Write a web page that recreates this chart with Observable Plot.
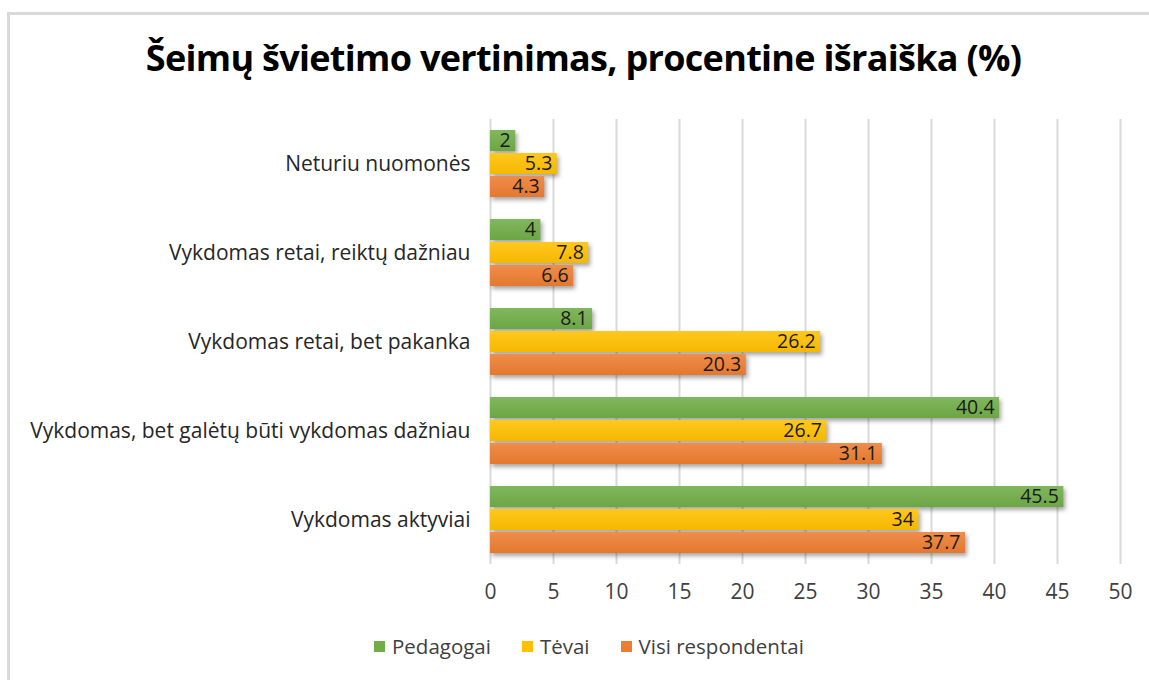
<!DOCTYPE html>
<html>
<head>
<meta charset="utf-8">
<script src="https://cdn.jsdelivr.net/npm/d3@7"></script>
<script src="https://cdn.jsdelivr.net/npm/@observablehq/plot@0.6"></script>
<style>
  html, body { margin: 0; padding: 0; background: #fff; }
  #wrap { position: relative; width: 1149px; height: 680px; overflow: hidden; font-family: "Open Sans", "Noto Sans", sans-serif; }
  #frame { position: absolute; left: 7px; top: 12px; width: 1160px; height: 700px; border-top: 3px solid #d9d9d9; border-left: 3px solid #d9d9d9; box-sizing: border-box; }
  #title { position: absolute; left: 9px; width: 1149px; top: 33px; text-align: center; font-weight: 700; font-size: 36px; letter-spacing: -0.7px; color: #000; white-space: nowrap; }
  #chart { position: absolute; left: 0; top: 0; }
  #legend { position: absolute; top: 632px; left: 374px; display: flex; align-items: center; font-size: 20.5px; color: #404040; white-space: nowrap; }
  #legend .item { display: flex; align-items: center; margin-right: 31px; }
  #legend .sw { width: 11px; height: 11px; margin-right: 7px; }
  g[aria-label="bar"] rect { filter: drop-shadow(2px 3px 2px rgba(0,0,0,0.35)); }
</style>
</head>
<body>
<div id="wrap">
  <div id="frame"></div>
  <div id="chart"></div>
  <div id="title"></div>
  <div id="legend"></div>
</div>
<script>
const title = "Šeimų švietimo vertinimas, procentine išraiška (%)";
const categories = [
  "Neturiu nuomonės",
  "Vykdomas retai, reiktų dažniau",
  "Vykdomas retai, bet pakanka",
  "Vykdomas, bet galėtų būti vykdomas dažniau",
  "Vykdomas aktyviai"
];
const seriesNames = ["Pedagogai", "Tėvai", "Visi respondentai"];
const seriesColors = ["#70AD47", "#FFC000", "#ED7D31"];
const pedagogai = [2, 4, 8.1, 40.4, 45.5];
const tevai = [5.3, 7.8, 26.2, 26.7, 34];
const visi = [4.3, 6.6, 20.3, 31.1, 37.7];
const xTicks = [0, 5, 10, 15, 20, 25, 30, 35, 40, 45, 50];

const seriesValues = [pedagogai, tevai, visi];
const data = [];
categories.forEach((c, i) => {
  seriesNames.forEach((s, j) => data.push({category: c, series: s, value: seriesValues[j][i]}));
});

document.getElementById("title").textContent = title;

const chart = Plot.plot({
  width: 1149,
  height: 680,
  marginLeft: 490,
  marginRight: 29,
  marginTop: 119,
  marginBottom: 116,
  style: {fontFamily: "'Open Sans', 'Noto Sans', sans-serif", fontSize: "20px", background: "transparent"},
  x: {domain: [0, 50], ticks: xTicks, grid: false},
  fy: {domain: categories, padding: 0},
  y: {domain: seriesNames, paddingInner: 0.09, paddingOuter: 0.47},
  color: {domain: seriesNames, range: seriesColors},
  marks: [
    Plot.ruleX(xTicks, {stroke: "#d9d9d9", strokeWidth: 2}),
    Plot.axisX({ticks: xTicks, tickSize: 0, tickPadding: 20, fontSize: 21, fill: "#404040", label: null, anchor: "bottom", facetAnchor: "bottom"}),
    Plot.axisFy({tickSize: 0, tickPadding: 20, fontSize: 21, fill: "#262626", label: null, anchor: "left"}),
    Plot.axisY({ticks: [], label: null}),
    Plot.barX(data, {fy: "category", y: "series", x: "value", fill: "series"}),
    Plot.text(data, {fy: "category", y: "series", x: "value", text: d => String(d.value), textAnchor: "end", dx: -5, fill: "#1a1a1a", fontSize: 19.5})
  ]
});

// subtle vertical gradient on bars, like the original
const svg = d3.select(chart);
const defs = svg.insert("defs", ":first-child");
seriesColors.forEach((c, i) => {
  const g = defs.append("linearGradient").attr("id", "grad" + i).attr("x1", 0).attr("y1", 0).attr("x2", 0).attr("y2", 1);
  g.append("stop").attr("offset", "0%").attr("stop-color", d3.interpolateRgb(c, "#fff")(0.12));
  g.append("stop").attr("offset", "100%").attr("stop-color", d3.interpolateRgb(c, "#000")(0.04));
});
svg.selectAll('g[aria-label="bar"] rect').each(function() {
  const f = (this.getAttribute("fill") || "").toUpperCase();
  const i = seriesColors.map(s => s.toUpperCase()).indexOf(f);
  const rgb = d3.color(this.getAttribute("fill"));
  const idx = i >= 0 ? i : seriesColors.findIndex(s => d3.color(s).toString() === (rgb ? rgb.toString() : ""));
  if (idx >= 0) this.setAttribute("fill", `url(#grad${idx})`);
});

document.getElementById("chart").appendChild(chart);

const legend = document.getElementById("legend");
seriesNames.forEach((s, i) => {
  const item = document.createElement("div");
  item.className = "item";
  const sw = document.createElement("div");
  sw.className = "sw";
  sw.style.background = seriesColors[i];
  const t = document.createElement("span");
  t.textContent = s;
  item.appendChild(sw);
  item.appendChild(t);
  legend.appendChild(item);
});
</script>
</body>
</html>
